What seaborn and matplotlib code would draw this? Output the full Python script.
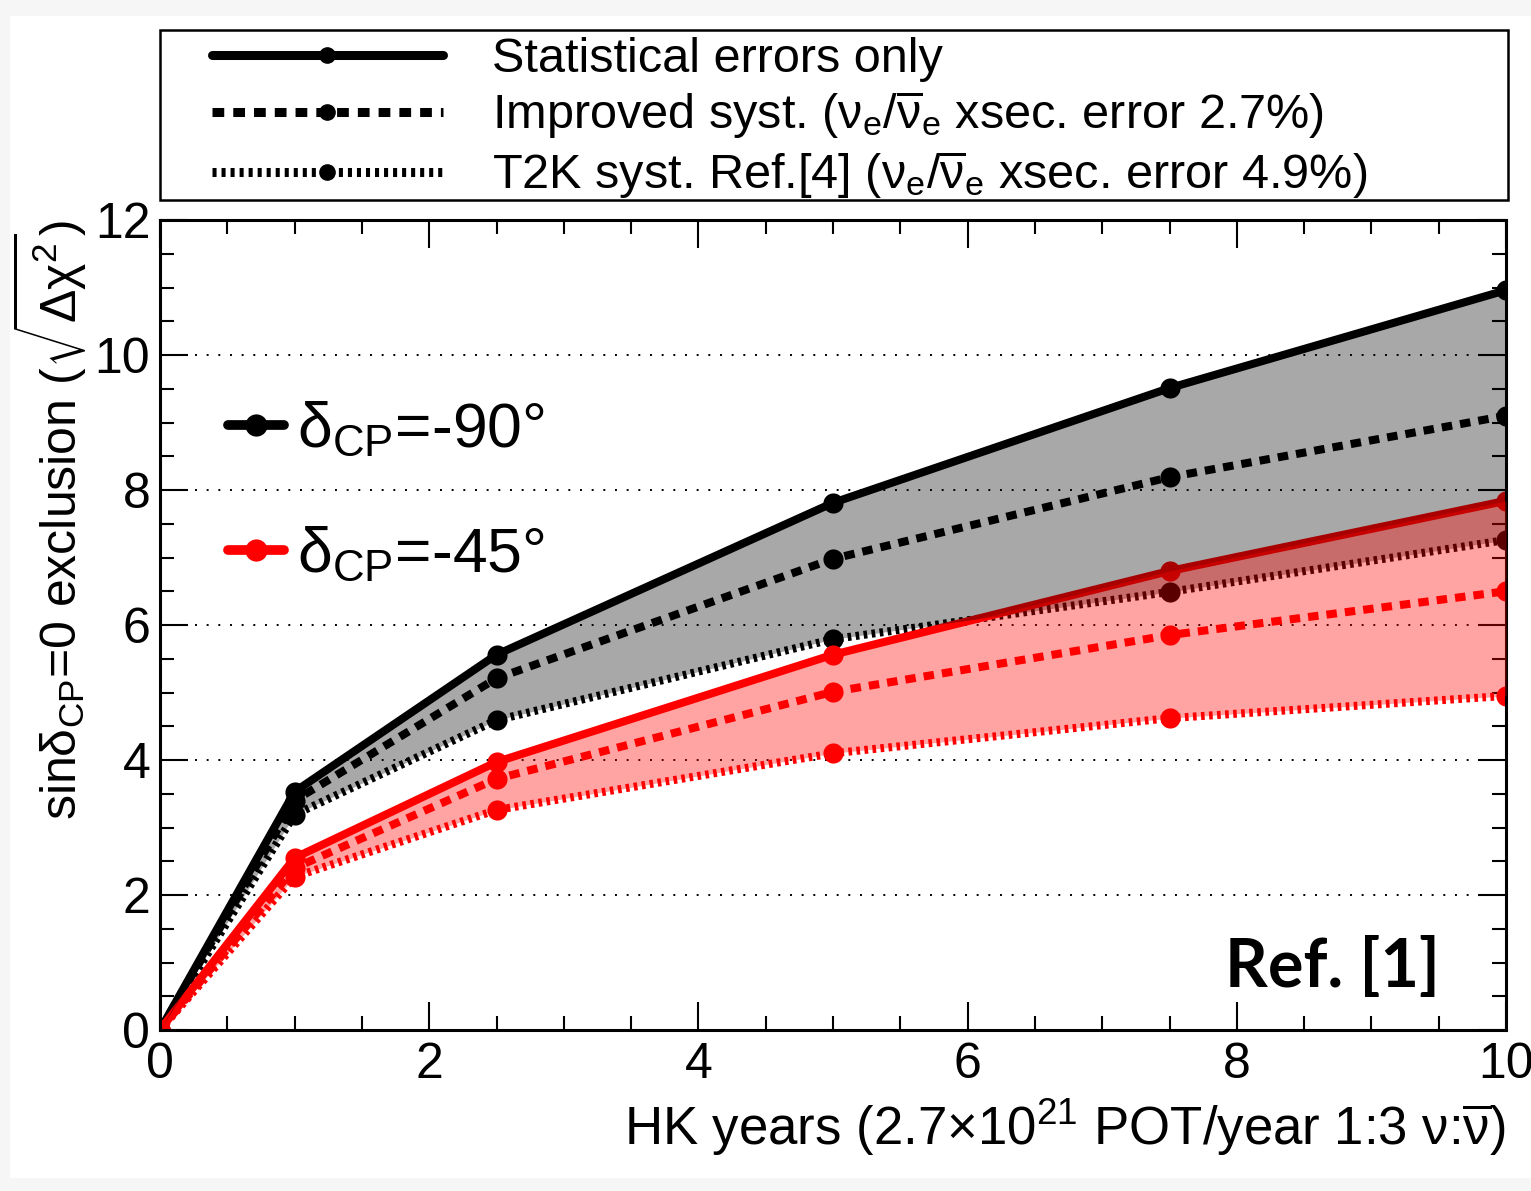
import matplotlib
matplotlib.use("Agg")
import matplotlib.pyplot as plt
import seaborn as sns
from matplotlib.lines import Line2D
from matplotlib.patches import Rectangle
from matplotlib.ticker import MultipleLocator

# ---------------- data ----------------
years = [0, 1, 2.5, 5, 7.5, 10]
m90_stat = [0, 3.53, 5.56, 7.81, 9.51, 10.96]
m90_impr = [0, 3.40, 5.21, 6.98, 8.19, 9.10]
m90_t2k = [0, 3.19, 4.59, 5.79, 6.49, 7.26]
m45_stat = [0, 2.55, 3.97, 5.56, 6.80, 7.84]
m45_impr = [0, 2.40, 3.72, 5.01, 5.85, 6.50]
m45_t2k = [0, 2.27, 3.26, 4.10, 4.62, 4.95]

legend_labels = [
    "Statistical errors only",
    r"Improved syst. ($\nu_e/\overline{\nu}_e$ xsec. error 2.7%)",
    r"T2K syst. Ref.[4] ($\nu_e/\overline{\nu}_e$ xsec. error 4.9%)",
]
dcp_labels = [r"$\delta_{CP}$=-90°", r"$\delta_{CP}$=-45°"]
xlabel = r"HK years (2.7$\times$10$^{21}$ POT/year 1:3 $\nu$:$\overline{\nu}$)"
ylabel = r"sin$\delta_{CP}$=0 exclusion ($\sqrt{\Delta\chi^2}$)"

# ---------------- style ----------------
sns.set_style("ticks")
plt.rcParams["font.family"] = ["Liberation Sans", "DejaVu Sans"]
plt.rcParams["mathtext.fontset"] = "custom"
plt.rcParams["mathtext.rm"] = "Liberation Sans"
plt.rcParams["mathtext.it"] = "Liberation Sans:italic"
plt.rcParams["mathtext.bf"] = "Liberation Sans:bold"
plt.rcParams["mathtext.default"] = "regular"
for k in ["text.color", "axes.labelcolor", "xtick.color", "ytick.color",
          "axes.edgecolor"]:
    plt.rcParams[k] = "black"

W, H = 1531, 1191
fig = plt.figure(figsize=(W / 100, H / 100), dpi=100)
fig.patch.set_facecolor("#f6f6f6")
fig.add_artist(Rectangle((10 / W, 1 - 1178 / H), 1, (1178 - 16) / H,
                         transform=fig.transFigure, facecolor="white",
                         edgecolor="none", zorder=-10))

ax = fig.add_axes([160 / W, 1 - 1030 / H, (1506 - 160) / W, (1030 - 220) / H])

LW = 5.8
MS = 14.5
DASH = (0, (1.3, 1.0))
DOT = (0, (0.45, 0.55))

def draw(y, color, ls):
    sns.lineplot(x=years, y=y, ax=ax, color=color, lw=LW, linestyle=ls,
                 marker="o", markersize=MS, markeredgewidth=0,
                 markeredgecolor=color, errorbar=None, sort=False,
                 legend=False, zorder=2)

for ys, ls in [(m90_t2k, DOT), (m90_impr, DASH), (m90_stat, "-")]:
    draw(ys, "black", ls)
for ys, ls in [(m45_t2k, DOT), (m45_impr, DASH), (m45_stat, "-")]:
    draw(ys, "red", ls)

ax.fill_between(years, m90_t2k, m90_stat, color="black", alpha=0.34, lw=0, zorder=3)
ax.fill_between(years, m45_t2k, m45_stat, color="red", alpha=0.36, lw=0, zorder=4)

ax.set_xlim(0, 10)
ax.set_ylim(0, 12)
ax.xaxis.set_major_locator(MultipleLocator(2))
ax.xaxis.set_minor_locator(MultipleLocator(0.5))
ax.yaxis.set_major_locator(MultipleLocator(2))
ax.yaxis.set_minor_locator(MultipleLocator(0.5))
ax.tick_params(which="both", direction="in", top=True, right=True,
               width=1.5, color="black", labelsize=36, labelcolor="black")
ax.tick_params(which="major", length=20)
ax.tick_params(which="minor", length=10)
ax.tick_params(axis="y", pad=7)
ax.tick_params(axis="x", pad=9)
for s in ax.spines.values():
    s.set_linewidth(2.2)
    s.set_color("black")
ax.set_axisbelow(True)
ax.grid(axis="y", which="major", color="black", lw=1.4, linestyle=(0, (1, 5)))

ax.set_xlabel(xlabel, fontsize=38, loc="right", labelpad=6, color="black")
ax.set_ylabel(ylabel, fontsize=36, loc="top", labelpad=4, color="black")

# delta_CP legend
dh = [Line2D([], [], color="black", lw=7, marker="o", markersize=16, markeredgewidth=0),
      Line2D([], [], color="red", lw=7, marker="o", markersize=16, markeredgewidth=0)]
leg2 = ax.legend(dh, dcp_labels, loc="upper left",
                 bbox_to_anchor=((228 - 160) / 1346, (1030 - 401) / 810),
                 frameon=False, borderpad=0, borderaxespad=0, handlelength=0.9,
                 handletextpad=0.2, fontsize=45, labelspacing=1.05, numpoints=1)
leg2.set_zorder(10)

ax.text(0.951, 0.077, "Ref. [1]", transform=ax.transAxes, ha="right", va="center",
        fontsize=48, fontweight="bold", family=["Lato", "DejaVu Sans"], zorder=10)

# top legend
fig.add_artist(Rectangle((160 / W, 1 - 200 / H), (1508 - 160) / W, 170 / H,
                         transform=fig.transFigure, fill=False,
                         edgecolor="black", lw=1.8))
th = [Line2D([], [], color="black", lw=6.5, ls=ls, marker="o", markersize=12,
             markeredgewidth=0) for ls in ["-", DASH, DOT]]
fig.legend(th, legend_labels, loc="upper left",
           bbox_to_anchor=(212 / W, 1 - 37 / H), bbox_transform=fig.transFigure,
           frameon=False, borderpad=0, borderaxespad=0, handlelength=4.75,
           handletextpad=1.0, fontsize=35, labelspacing=0.15, numpoints=1)

fig.savefig("out.png", dpi=100, facecolor=fig.get_facecolor())
